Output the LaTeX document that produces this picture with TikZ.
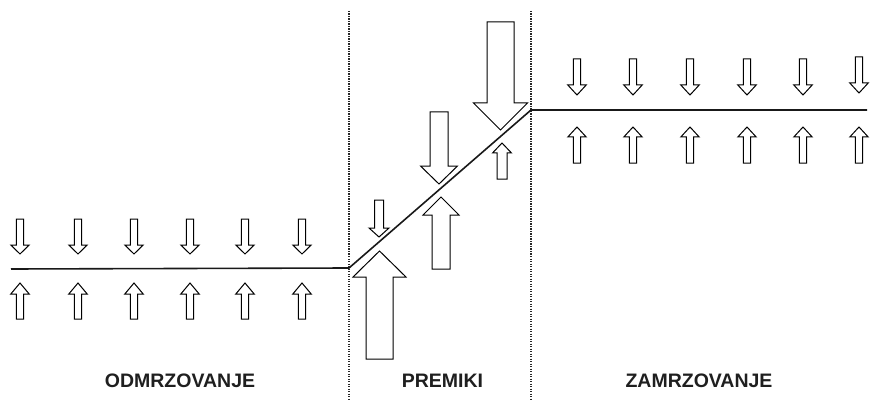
\documentclass[tikz,border=0pt]{standalone}
\usepackage{fontspec}
\setmainfont{Liberation Sans}
\usepackage{tikz}

% block arrow: centre x, tail y, head base y, tip y, half shaft, half head
\newcommand{\blockarrow}[6]{%
\draw[arrowline] (#1-#5,#2) -- (#1-#5,#3) -- (#1-#6,#3) -- (#1,#4)
 -- (#1+#6,#3) -- (#1+#5,#3) -- (#1+#5,#2) -- cycle;}

\tikzset{
 arrowline/.style={black,line width=1pt,fill=white,line join=miter},
 sheet/.style={black!90,line width=1.6pt},
 zoneline/.style={black!85,line width=1.2pt,dash pattern=on 1.2pt off 1.3pt},
 zonetext/.style={font=\fontsize{19.5}{21}\selectfont\bfseries,text=black!88}
}

\begin{document}
\begin{tikzpicture}[x=1pt,y=-1pt]
\useasboundingbox (0,0) rectangle (870,401);

\draw[zoneline] (349,11) -- (349,401);
\draw[zoneline] (531,11) -- (531,401);

\draw[sheet] (11,269) -- (349,268) -- (531,110) -- (867,110);

% odmrzovanje
\blockarrow{20}{219}{245}{254}{3.7}{9.2}
\blockarrow{20}{319}{294}{283}{3.7}{9.2}
\blockarrow{78}{219}{245}{254}{3.7}{9.2}
\blockarrow{78}{319}{294}{283}{3.7}{9.2}
\blockarrow{134}{219}{245}{254}{3.7}{9.2}
\blockarrow{134}{319}{294}{283}{3.7}{9.2}
\blockarrow{190}{219}{245}{254}{3.7}{9.2}
\blockarrow{190}{319}{294}{283}{3.7}{9.2}
\blockarrow{245}{219}{245}{254}{3.7}{9.2}
\blockarrow{245}{319}{294}{283}{3.7}{9.2}
\blockarrow{302}{219}{245}{254}{3.7}{9.2}
\blockarrow{302}{319}{294}{283}{3.7}{9.2}

% premiki
\blockarrow{379}{200}{228}{237}{4.5}{10}
\blockarrow{379.5}{359}{277}{251}{13.5}{26.5}
\blockarrow{439}{112}{166}{184}{9}{18.5}
\blockarrow{441}{269}{215}{197}{9}{18}
\blockarrow{500.5}{22}{103}{130}{13.5}{27}
\blockarrow{502}{179}{153}{143}{5}{9.5}

% zamrzovanje
\blockarrow{577}{59}{85}{95}{3.7}{9.2}
\blockarrow{577}{163}{137}{127}{3.7}{9.2}
\blockarrow{633}{59}{85}{95}{3.7}{9.2}
\blockarrow{633}{163}{137}{127}{3.7}{9.2}
\blockarrow{690}{59}{85}{95}{3.7}{9.2}
\blockarrow{690}{163}{137}{127}{3.7}{9.2}
\blockarrow{747}{59}{85}{95}{3.7}{9.2}
\blockarrow{747}{163}{137}{127}{3.7}{9.2}
\blockarrow{803}{59}{85}{95}{3.7}{9.2}
\blockarrow{803}{163}{137}{127}{3.7}{9.2}
\blockarrow{859}{57}{83}{93}{3.7}{9.2}
\blockarrow{859}{163}{137}{127}{3.7}{9.2}

\node[zonetext] (odmrz) at (180,380.5) {ODMRZOVANJE};
\node[zonetext] (premiki) at (442.5,380.5) {PREMIKI};
\node[zonetext] (zamrz) at (699,380.5) {ZAMRZOVANJE};
\end{tikzpicture}
\end{document}
